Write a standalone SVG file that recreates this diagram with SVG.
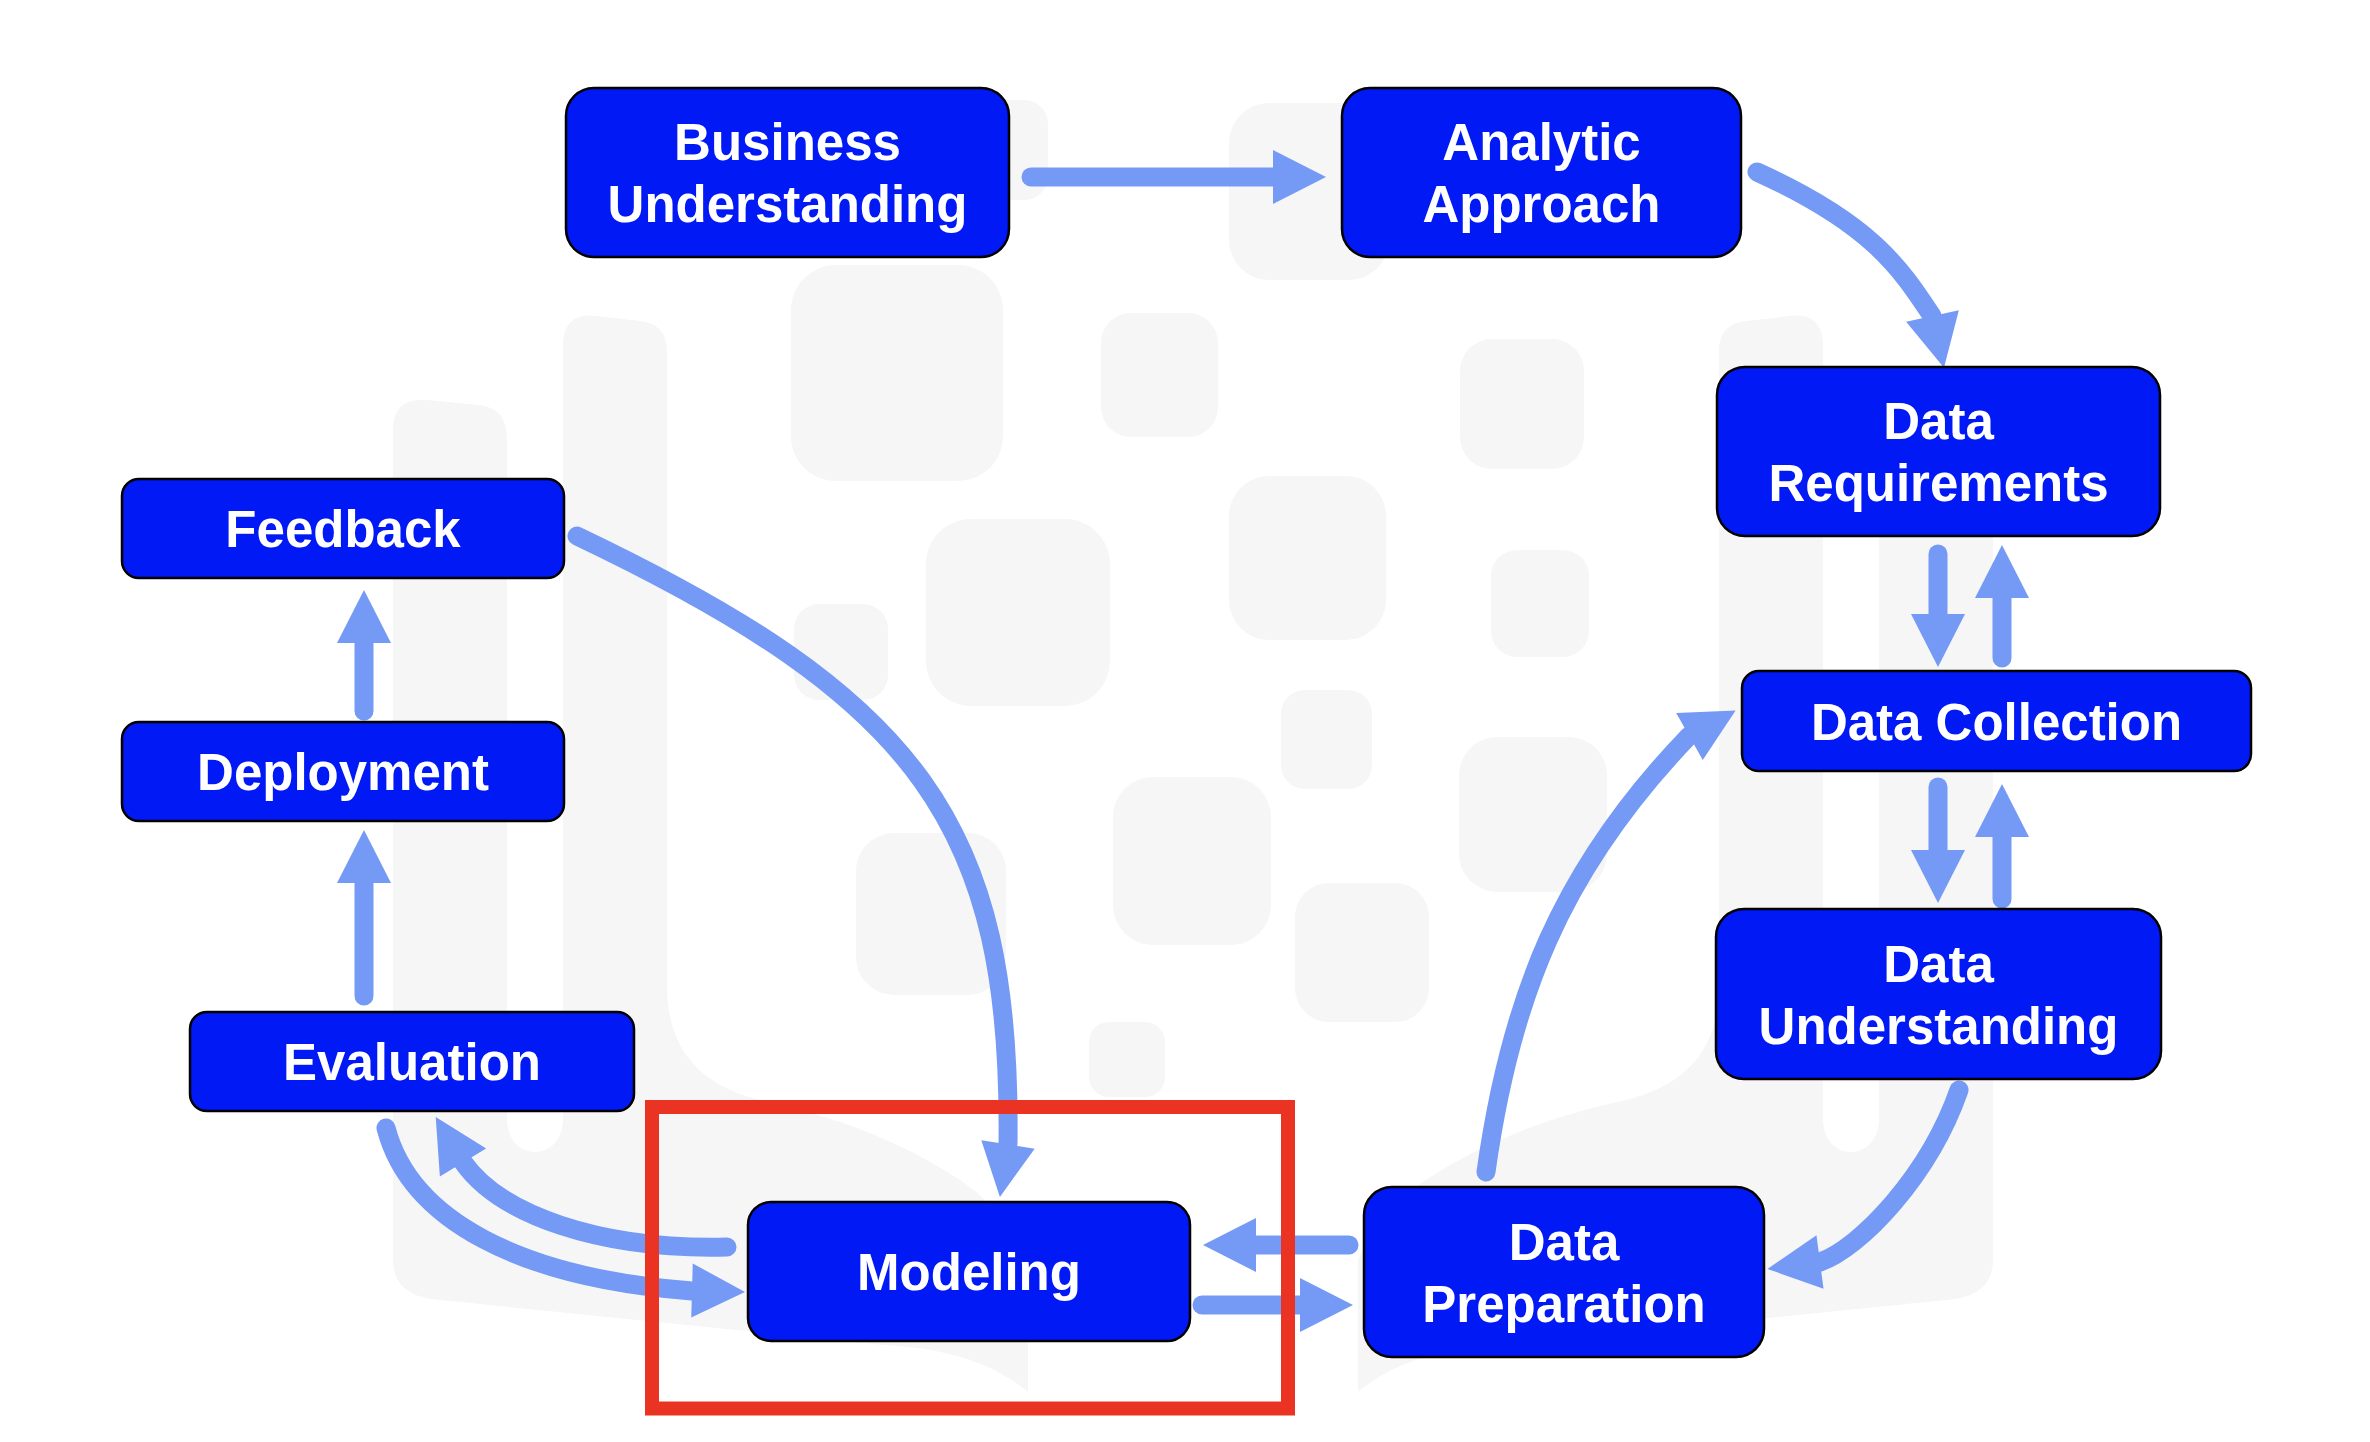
<svg xmlns="http://www.w3.org/2000/svg" xmlns:xlink="http://www.w3.org/1999/xlink" width="2370" height="1442" viewBox="0 0 2370 1442">
<style>
.bg{fill:#f6f6f6}
.box{fill:#0019f5;stroke:#000;stroke-width:2.5}
.lbl{font-family:"Liberation Sans",Arial,sans-serif;font-weight:bold;font-size:51px;fill:#fff;text-anchor:middle}
.sh{fill:none;stroke:#749af6;stroke-width:19;stroke-linecap:round}
.ah{fill:#749af6}
.hl{fill:none;stroke:#ea3323;stroke-width:14}
</style>
<defs>
<path id="ahd" d="M0,-27 L53,0 L0,27 Z"/>
<path id="half" d="M393,430 C393,408 405,398 428,400 L478,405 C498,407 507,418 507,440 L507,1118 C507,1140 520,1152 535,1152 C550,1152 563,1140 563,1118 L563,345 C563,323 575,313 596,316 L640,321 C658,323 667,333 667,352 L667,985 C667,1050 700,1085 760,1100 C830,1115 900,1140 960,1180 C990,1200 1015,1230 1028,1260 L1028,1392 C990,1360 940,1348 884,1345 L440,1300 C410,1298 393,1285 393,1260 Z"/>
</defs>
<rect width="2370" height="1442" fill="#fff"/>
<g id="watermark">
<use xlink:href="#half" href="#half" class="bg"/>
<use xlink:href="#half" href="#half" class="bg" transform="translate(2386,0) scale(-1,1)"/>
<rect class="bg" x="791" y="265" width="212" height="216" rx="45"/>
<rect class="bg" x="1101" y="313" width="117" height="124" rx="30"/>
<rect class="bg" x="1460" y="339" width="124" height="130" rx="32"/>
<rect class="bg" x="926" y="519" width="184" height="187" rx="45"/>
<rect class="bg" x="1229" y="476" width="157" height="164" rx="40"/>
<rect class="bg" x="1491" y="550" width="98" height="107" rx="26"/>
<rect class="bg" x="794" y="604" width="94" height="96" rx="25"/>
<rect class="bg" x="1281" y="690" width="91" height="99" rx="24"/>
<rect class="bg" x="1113" y="777" width="158" height="168" rx="40"/>
<rect class="bg" x="1459" y="737" width="148" height="155" rx="38"/>
<rect class="bg" x="856" y="833" width="150" height="162" rx="38"/>
<rect class="bg" x="1295" y="883" width="134" height="139" rx="34"/>
<rect class="bg" x="1089" y="1022" width="76" height="75" rx="20"/>
<rect class="bg" x="1229" y="103" width="160" height="177" rx="40"/>
<rect class="bg" x="960" y="100" width="88" height="100" rx="24"/>
</g>
<g id="connectors">
<path class="sh" d="M1031,177 H1273"/>
<use xlink:href="#ahd" href="#ahd" class="ah" transform="translate(1273,177)"/>
<path class="sh" d="M1757,172 C1872,224 1901,269 1932,316"/>
<use xlink:href="#ahd" href="#ahd" class="ah" transform="translate(1932.5,316) rotate(77.5)"/>
<path class="sh" d="M1938,554 V614"/>
<use xlink:href="#ahd" href="#ahd" class="ah" transform="translate(1938,614) rotate(90)"/>
<path class="sh" d="M2002,658 V598"/>
<use xlink:href="#ahd" href="#ahd" class="ah" transform="translate(2002,598) rotate(-90)"/>
<path class="sh" d="M1938,787 V850"/>
<use xlink:href="#ahd" href="#ahd" class="ah" transform="translate(1938,850) rotate(90)"/>
<path class="sh" d="M2002,899 V837"/>
<use xlink:href="#ahd" href="#ahd" class="ah" transform="translate(2002,837) rotate(-90)"/>
<path class="sh" d="M1959,1090 C1929,1176 1860,1248 1820,1262"/>
<use xlink:href="#ahd" href="#ahd" class="ah" transform="translate(1820,1262) rotate(172.5)"/>
<path class="sh" d="M1486,1172 C1510,1000 1560,870 1689,736"/>
<use xlink:href="#ahd" href="#ahd" class="ah" transform="translate(1689.5,736.5) rotate(-29.5)"/>
<path class="sh" d="M577,536 C919,699 1012,824 1008,1144"/>
<use xlink:href="#ahd" href="#ahd" class="ah" transform="translate(1008,1144.5) rotate(98.8)"/>
<path class="sh" d="M1349,1245 H1256"/>
<use xlink:href="#ahd" href="#ahd" class="ah" transform="translate(1256,1245) rotate(180)"/>
<path class="sh" d="M1202,1305 H1300"/>
<use xlink:href="#ahd" href="#ahd" class="ah" transform="translate(1300,1305)"/>
<path class="sh" d="M727,1247 C600,1250 500,1215 463,1162"/>
<use xlink:href="#ahd" href="#ahd" class="ah" transform="translate(463,1162.5) rotate(-121)"/>
<path class="sh" d="M386,1128 C410,1220 520,1278 692,1291"/>
<use xlink:href="#ahd" href="#ahd" class="ah" transform="translate(692,1290.5) rotate(1.6)"/>
<path class="sh" d="M364,996 V883"/>
<use xlink:href="#ahd" href="#ahd" class="ah" transform="translate(364,883) rotate(-90)"/>
<path class="sh" d="M364,711 V643"/>
<use xlink:href="#ahd" href="#ahd" class="ah" transform="translate(364,643) rotate(-90)"/>
</g>
<g id="business-understanding">
<rect class="box" x="566" y="88" width="443" height="169" rx="28"/>
<text class="lbl" x="787.5" y="160">Business</text>
<text class="lbl" x="787.5" y="222">Understanding</text>
</g>
<g id="analytic-approach">
<rect class="box" x="1342" y="88" width="399" height="169" rx="28"/>
<text class="lbl" x="1541.5" y="160">Analytic</text>
<text class="lbl" x="1541.5" y="222">Approach</text>
</g>
<g id="data-requirements">
<rect class="box" x="1717" y="367" width="443" height="169" rx="28"/>
<text class="lbl" x="1938.5" y="439">Data</text>
<text class="lbl" x="1938.5" y="501">Requirements</text>
</g>
<g id="data-collection">
<rect class="box" x="1742" y="671" width="509" height="100" rx="17"/>
<text class="lbl" x="1996.5" y="739.5">Data Collection</text>
</g>
<g id="data-understanding">
<rect class="box" x="1716" y="909" width="445" height="170" rx="28"/>
<text class="lbl" x="1938.5" y="981.5">Data</text>
<text class="lbl" x="1938.5" y="1043.5">Understanding</text>
</g>
<g id="data-preparation">
<rect class="box" x="1364" y="1187" width="400" height="170" rx="28"/>
<text class="lbl" x="1564" y="1259.5">Data</text>
<text class="lbl" x="1564" y="1321.5">Preparation</text>
</g>
<g id="modeling">
<rect class="box" x="748" y="1202" width="442" height="139" rx="23"/>
<text class="lbl" x="969" y="1290">Modeling</text>
</g>
<g id="evaluation">
<rect class="box" x="190" y="1012" width="444" height="99" rx="17"/>
<text class="lbl" x="412" y="1080">Evaluation</text>
</g>
<g id="deployment">
<rect class="box" x="122" y="722" width="442" height="99" rx="17"/>
<text class="lbl" x="343" y="790">Deployment</text>
</g>
<g id="feedback">
<rect class="box" x="122" y="479" width="442" height="99" rx="17"/>
<text class="lbl" x="343" y="546.5">Feedback</text>
</g>
<g id="highlight">
<rect class="hl" x="652" y="1107" width="636" height="301.5"/>
</g>
</svg>
